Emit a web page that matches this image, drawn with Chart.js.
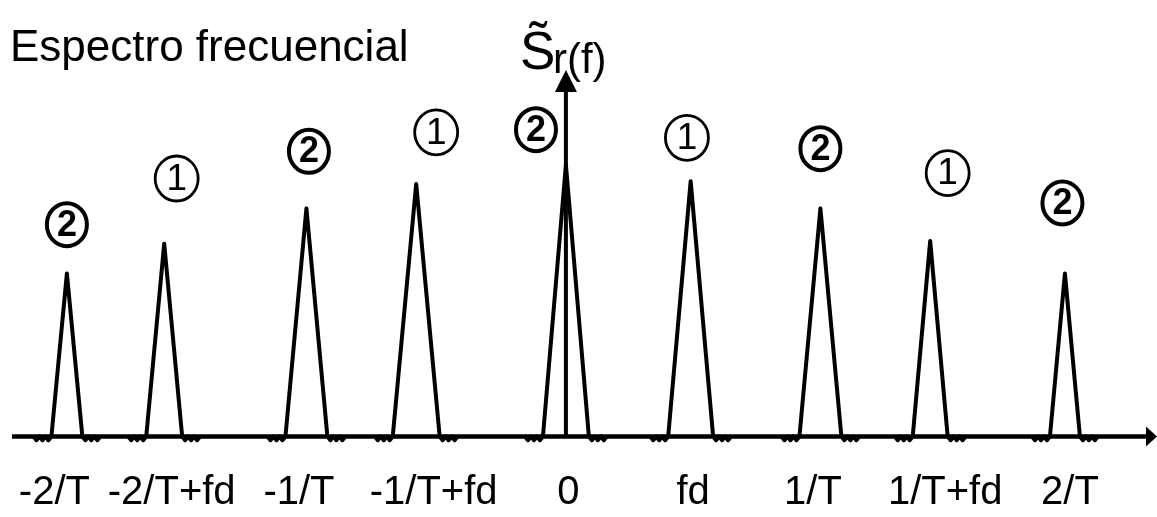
<!DOCTYPE html>
<html lang="es">
<head>
<meta charset="UTF-8">
<title>Espectro frecuencial</title>
<script src="https://cdn.jsdelivr.net/npm/chart.js@4.4.1/dist/chart.umd.min.js"></script>
<style>
    html, body { margin: 0; padding: 0; background: #fff; }
    #wrap { width: 1157px; height: 517px; }
</style>
</head>
<body>
<div id="wrap"><canvas id="spectrumChart"></canvas></div>
<script>
// Datos del espectro (frecuencia en unidades de 1/T, amplitud relativa al pico central)
const tickLabels = ['-2/T', '-2/T+fd', '-1/T', '-1/T+fd', '0', 'fd', '1/T', '1/T+fd', '2/T'];
const tickPositions = [-2.05, -1.58, -1.07, -0.53, 0.01, 0.51, 0.99, 1.52, 2.02];

const peakCenters = [-2.0, -1.61, -1.04, -0.60, 0, 0.50, 1.02, 1.46, 2.0];
const peakHeights = [0.60, 0.71, 0.84, 0.93, 1.0, 0.94, 0.84, 0.72, 0.60];
const peakHalfWidths = [0.062, 0.072, 0.084, 0.094, 0.092, 0.09, 0.084, 0.07, 0.06];

// números en círculo sobre cada pico
const peakMarks = ['2', '1', '2', '1', '2', '1', '2', '1', '2'];
const markX = [-2.0, -1.56, -1.03, -0.52, -0.12, 0.485, 1.02, 1.53, 1.99];
const markY = [0.78, 0.95, 1.05, 1.12, 1.13, 1.10, 1.06, 0.97, 0.86];

// pequeñas ondulaciones al pie de cada pico
const rippleX = [0.012, 0.024, 0.036, 0.048, 0.06, 0.072];
const rippleY = [-0.014, 0, -0.014, 0, -0.014, 0];

const arrowTop = 1.35;

// Construir los puntos de un pico
function buildPeak(i) {
    const c = peakCenters[i];
    const w = peakHalfWidths[i];
    const h = peakHeights[i];
    const pts = [];
    for (let k = rippleX.length - 1; k >= 0; k--) {
        pts.push({ x: c - w - rippleX[k], y: rippleY[k] });
    }
    pts.push({ x: c - w, y: 0 });
    pts.push({ x: c, y: h });
    pts.push({ x: c + w, y: 0 });
    for (let k = 0; k < rippleX.length; k++) {
        pts.push({ x: c + w + rippleX[k], y: rippleY[k] });
    }
    return pts;
}

const datasets = peakCenters.map((c, i) => ({
    data: buildPeak(i),
    borderColor: '#000',
    borderWidth: 4,
    borderJoinStyle: 'round',
    pointRadius: 0,
    tension: 0,
    clip: false
}));

// Ejes con flechas, etiqueta S~r(f) y números en círculo
const decorPlugin = {
    id: 'decor',
    afterDatasetsDraw(chart) {
        const { ctx, chartArea, scales: { x, y } } = chart;
        const y0 = y.getPixelForValue(0);
        const x0 = x.getPixelForValue(0);
        ctx.save();
        ctx.strokeStyle = '#000';
        ctx.fillStyle = '#000';

        // eje horizontal
        ctx.lineWidth = 4.5;
        ctx.beginPath();
        ctx.moveTo(chartArea.left + 2, y0);
        ctx.lineTo(chartArea.right - 8, y0);
        ctx.stroke();
        ctx.beginPath();
        ctx.moveTo(chartArea.right, y0);
        ctx.lineTo(chartArea.right - 11, y0 - 10);
        ctx.lineTo(chartArea.right - 11, y0 + 10);
        ctx.closePath();
        ctx.fill();

        // eje vertical
        const yTop = y.getPixelForValue(arrowTop);
        ctx.lineWidth = 4;
        ctx.beginPath();
        ctx.moveTo(x0, y0);
        ctx.lineTo(x0, yTop + 15);
        ctx.stroke();
        ctx.beginPath();
        ctx.moveTo(x0, yTop);
        ctx.lineTo(x0 - 11, yTop + 22);
        ctx.lineTo(x0 + 11, yTop + 22);
        ctx.closePath();
        ctx.fill();

        // etiqueta del eje vertical
        ctx.textAlign = 'left';
        ctx.textBaseline = 'alphabetic';
        ctx.font = '53px "Liberation Sans", Arial, sans-serif';
        ctx.fillText('S\u0303', x0 - 46, yTop - 1);
        ctx.font = '42px "Liberation Sans", Arial, sans-serif';
        ctx.fillText('r(f)', x0 - 13, yTop + 3);

        // números en círculo
        ctx.textAlign = 'center';
        ctx.textBaseline = 'middle';
        peakMarks.forEach((m, i) => {
            const px = x.getPixelForValue(markX[i]);
            const py = y.getPixelForValue(markY[i]);
            const bold = m === '2';
            ctx.lineWidth = bold ? 4 : 2.8;
            ctx.beginPath();
            if (bold) {
                ctx.ellipse(px, py, 20, 21.5, 0, 0, Math.PI * 2);
            } else {
                ctx.ellipse(px, py, 21.5, 22.5, 0, 0, Math.PI * 2);
            }
            ctx.stroke();
            ctx.font = (bold ? 'bold 36px' : '37px') + ' "Liberation Sans", Arial, sans-serif';
            ctx.fillText(m, px, py + 1);
        });
        ctx.restore();
    }
};

document.addEventListener('DOMContentLoaded', function() {
    const ctx = document.getElementById('spectrumChart').getContext('2d');
    new Chart(ctx, {
        type: 'line',
        data: { datasets: datasets },
        options: {
            responsive: true,
            maintainAspectRatio: false,
            animation: false,
            layout: { padding: { left: 10, right: 0, top: 0, bottom: 0 } },
            plugins: {
                legend: { display: false },
                tooltip: { enabled: false },
                title: {
                    display: true,
                    text: 'Espectro frecuencial',
                    align: 'start',
                    color: '#000',
                    font: { family: '"Liberation Sans", Arial, sans-serif', size: 44, weight: 'normal' },
                    padding: { top: 22, bottom: 0 }
                }
            },
            scales: {
                x: {
                    type: 'linear',
                    min: -2.228,
                    max: 2.369,
                    grid: { display: false, drawTicks: false },
                    border: { display: false },
                    afterBuildTicks: function(axis) {
                        axis.ticks = tickPositions.map(v => ({ value: v }));
                    },
                    ticks: {
                        autoSkip: false,
                        maxRotation: 0,
                        padding: 0,
                        color: '#000',
                        font: { family: '"Liberation Sans", Arial, sans-serif', size: 40 },
                        callback: function(value, index) {
                            return tickLabels[index];
                        }
                    }
                },
                y: {
                    display: false,
                    min: -0.12,
                    max: 1.332
                }
            }
        },
        plugins: [decorPlugin]
    });
});
</script>
</body>
</html>
